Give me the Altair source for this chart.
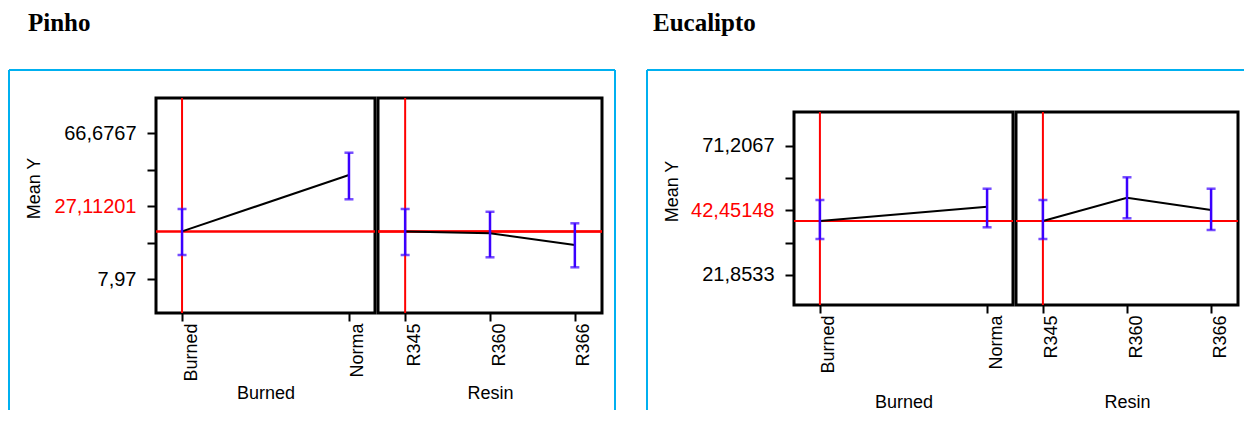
import altair as alt
import pandas as pd

# ---------------- data ----------------
burned_levels = ["Burned", "Normal"]
burned_tick_labels = ["Burned", "Norma"]
resin_levels = ["R345", "R360", "R366"]
resin_tick_labels = ["R345", "R360", "R366"]

pinho_burned_mean = [27.11, 49.79]
pinho_burned_lo = [17.62, 40.02]
pinho_burned_hi = [36.12, 58.75]
pinho_resin_mean = [27.11, 26.40, 21.64]
pinho_resin_lo = [17.62, 16.70, 12.67]
pinho_resin_hi = [36.12, 35.00, 30.37]
pinho_current = 27.11201
pinho_y_ticks = [7.97, 22.6467, 37.3234, 52.0, 66.6767]
pinho_y_labels = ["7,97", "", "27,11201", "", "66,6767"]
pinho_y_domain = [-5.70, 80.75]

euc_burned_mean = [42.45, 47.92]
euc_burned_lo = [35.59, 40.06]
euc_burned_hi = [50.48, 54.79]
euc_resin_mean = [42.45, 51.36, 46.66]
euc_resin_lo = [35.59, 43.50, 39.03]
euc_resin_hi = [50.48, 59.15, 54.79]
euc_current = 42.45148
euc_y_ticks = [21.8533, 34.1917, 46.53, 58.8684, 71.2067]
euc_y_labels = ["21,8533", "", "42,45148", "", "71,2067"]
euc_y_domain = [10.40, 84.07]

FONT = "Liberation Sans"
BLUE = "#3a00ff"
BOX = "#00b0f0"
BOX_BOTTOM = 312


def num_expr(values, labels):
    parts = [f"abs(datum.value - {v}) < 0.001 ? '{l}'" for v, l in zip(values, labels)]
    return " : ".join(parts) + " : ''"


def cat_expr(levels, labels):
    parts = [f"datum.value == '{v}' ? '{l}'" for v, l in zip(levels, labels)]
    return " : ".join(parts) + " : datum.label"


def subplot(levels, tick_labels, mean, lo, hi, current, ydomain, yrange,
            width, height, padding, xtitle, xtitle_y,
            y_ticks=None, y_labels=None, ytitle_y=None, deco=None):
    df = pd.DataFrame({"level": levels, "mean": mean, "lo": lo, "hi": hi,
                       "current": [current] * len(levels)})
    ref = pd.DataFrame({"level": [levels[0]], "top": [ydomain[1]], "bottom": [ydomain[0]]})

    xaxis = alt.Axis(title=xtitle, labelAngle=270, labelAlign="right", labelBaseline="top",
                     labelPadding=2, tickSize=8, tickWidth=2, tickColor="black",
                     domain=False, grid=False, labelFont=FONT, labelFontSize=18,
                     labelColor="black", labelExpr=cat_expr(levels, tick_labels),
                     titleFont=FONT, titleFontSize=18, titleFontWeight="normal",
                     titleColor="black", titleX=width / 2, titleY=xtitle_y,
                     titleAlign="center", titleBaseline="middle", labelOverlap=False)
    if y_ticks is not None:
        mid = y_ticks[len(y_ticks) // 2]
        yaxis = alt.Axis(title="Mean Y", values=y_ticks, labelExpr=num_expr(y_ticks, y_labels),
                         tickSize=9, tickWidth=2, tickColor="black", domain=False, grid=False,
                         labelFont=FONT, labelFontSize=20, labelPadding=11,
                         labelColor={"condition": {"test": f"abs(datum.value - {mid}) < 0.001",
                                                   "value": "red"}, "value": "black"},
                         titleFont=FONT, titleFontSize=18, titleFontWeight="normal",
                         titleColor="black", titleAngle=270, titleX=-121.5, titleY=ytitle_y,
                         titleAlign="center", titleBaseline="middle", labelOverlap=False)
    else:
        yaxis = None

    xs = alt.Scale(type="point", domain=levels, padding=padding)
    ys = alt.Scale(domain=ydomain, range=yrange, nice=False, zero=False)

    def X():
        return alt.X("level:N", scale=xs, axis=xaxis, sort=levels)

    def Y(f):
        return alt.Y(f"{f}:Q", scale=ys, axis=yaxis)

    frame = alt.Chart(ref).mark_rect(filled=False, stroke="black", strokeWidth=3).encode(
        x=alt.value(0), x2=alt.value(width), y=Y("top"), y2="bottom:Q")
    red_h = alt.Chart(df).mark_rule(color="red", strokeWidth=2).encode(y=Y("current"))
    red_v = alt.Chart(ref).mark_rule(color="red", strokeWidth=2).encode(
        x=X(), y=Y("top"), y2="bottom:Q")
    line = alt.Chart(df).mark_line(color="black", strokeWidth=2).encode(x=X(), y=Y("mean"))
    bar = alt.Chart(df).mark_rule(color=BLUE, strokeWidth=2.5).encode(x=X(), y=Y("lo"), y2="hi:Q")
    cap_lo = alt.Chart(df).mark_tick(color=BLUE, thickness=2.5, size=9).encode(x=X(), y=Y("lo"))
    cap_hi = alt.Chart(df).mark_tick(color=BLUE, thickness=2.5, size=9).encode(x=X(), y=Y("hi"))

    layers = [frame, red_h, red_v, line, bar, cap_lo, cap_hi]
    if deco is not None:
        layers += deco
    return alt.layer(*layers).properties(width=width, height=height)


def decorations(title, title_x, box_left, box_right, right_edge=True):
    t = pd.DataFrame({"t": [title]})
    d = pd.DataFrame({"a": [0]})
    out = [
        # invisible anchor that fixes the top of the drawing
        alt.Chart(d).mark_rule(opacity=0, strokeWidth=1).encode(
            x=alt.value(0), y=alt.value(-89.5), y2=alt.value(-80)),
        alt.Chart(t).mark_text(font="Liberation Serif", fontSize=25, fontWeight="bold",
                               align="left", baseline="alphabetic", color="black").encode(
            x=alt.value(title_x), y=alt.value(-67), text="t:N"),
        alt.Chart(d).mark_rule(color=BOX, strokeWidth=2).encode(
            x=alt.value(box_left), y=alt.value(-28), y2=alt.value(BOX_BOTTOM)),
        alt.Chart(d).mark_rule(color=BOX, strokeWidth=2).encode(
            x=alt.value(box_left), x2=alt.value(box_right), y=alt.value(-28)),
    ]
    if right_edge:
        out.append(alt.Chart(d).mark_rule(color=BOX, strokeWidth=2).encode(
            x=alt.value(box_right), y=alt.value(-28), y2=alt.value(BOX_BOTTOM)))
    return out


pb = subplot(burned_levels, burned_tick_labels, pinho_burned_mean, pinho_burned_lo,
             pinho_burned_hi, pinho_current, pinho_y_domain, [215, 0], 219, 215, 0.156,
             "Burned", 80, pinho_y_ticks, pinho_y_labels, 90,
             deco=decorations("Pinho", -128, -147, 459))
pr = subplot(resin_levels, resin_tick_labels, pinho_resin_mean, pinho_resin_lo,
             pinho_resin_hi, pinho_current, pinho_y_domain, [215, 0], 224, 215, 0.32,
             "Resin", 80)

spacer = alt.Chart(pd.DataFrame({"a": [0]})).mark_point(opacity=0).encode(
    x=alt.value(0), y=alt.value(0)).properties(width=186, height=10)

eb = subplot(burned_levels, burned_tick_labels, euc_burned_mean, euc_burned_lo,
             euc_burned_hi, euc_current, euc_y_domain, [207, 14], 219, 207, 0.155,
             "Burned", 97, euc_y_ticks, euc_y_labels, 93,
             deco=decorations("Eucalipto", -141, -147, 450, right_edge=False))
er = subplot(resin_levels, resin_tick_labels, euc_resin_mean, euc_resin_lo,
             euc_resin_hi, euc_current, euc_y_domain, [207, 14], 222, 207, 0.32,
             "Resin", 97)

chart = alt.hconcat(pb, pr, spacer, eb, er, spacing=3, bounds="flush").properties(
    padding=0, background="white"
).configure_view(stroke=None)

chart.save("out.html", embed_options={"renderer": "svg", "actions": False})
